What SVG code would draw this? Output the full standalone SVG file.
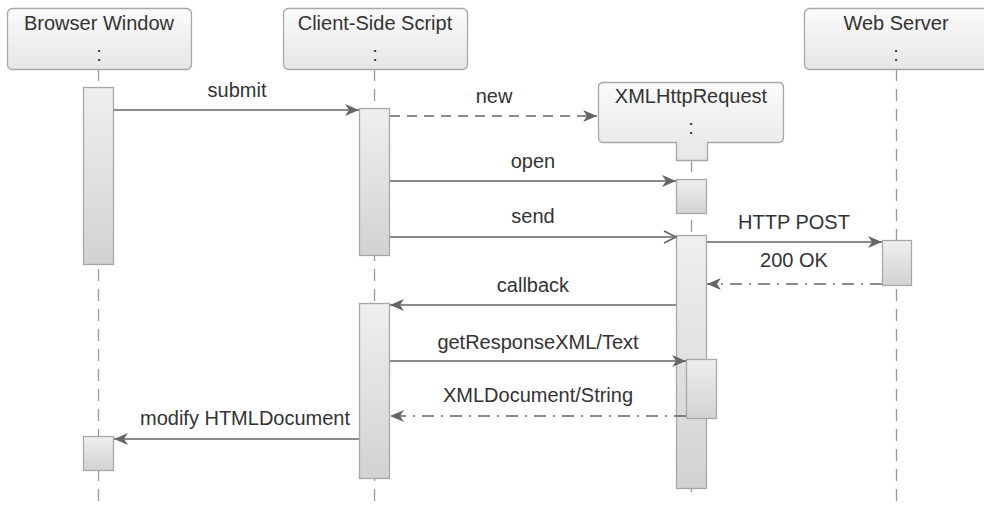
<svg xmlns="http://www.w3.org/2000/svg" width="984" height="507" viewBox="0 0 984 507">
<style>
text{font-family:"Liberation Sans",Arial,sans-serif;font-size:20px;fill:#333;text-anchor:middle}
.box{fill:url(#gBox);stroke:#a8a8a8;stroke-width:1.3}
.act{fill:url(#gAct);stroke:#a8a8a8;stroke-width:1.3}
.life{stroke:#999;stroke-width:1.3;stroke-dasharray:12 8;fill:none}
.msg{stroke:#666;stroke-width:1.6;fill:none}
.dash{stroke-dasharray:10 7}
.ret{stroke-dasharray:12 7 2 7}
.filled{marker-end:url(#arrF)}
.open{marker-end:url(#arrO)}
</style>
<defs>
<linearGradient id="gBox" x1="0" y1="0" x2="0" y2="1"><stop offset="0" stop-color="#fbfbfb"/><stop offset="1" stop-color="#e6e6e6"/></linearGradient>
<linearGradient id="gAct" x1="0" y1="0" x2="0" y2="1"><stop offset="0" stop-color="#efefef"/><stop offset="1" stop-color="#d2d2d2"/></linearGradient>
<marker id="arrF" markerUnits="userSpaceOnUse" markerWidth="16" markerHeight="12" refX="14" refY="6" orient="auto"><path d="M0,0 L14,6 L0,12 L4,6 z" fill="#666"/></marker>
<marker id="arrO" markerUnits="userSpaceOnUse" markerWidth="16" markerHeight="14" refX="13" refY="7" orient="auto"><path d="M1,1 L13,7 L1,13" fill="none" stroke="#666" stroke-width="1.6"/></marker>
</defs>
<rect width="984" height="507" fill="#fff"/>
<g id="lifelines">
<line class="life" x1="98.5" y1="69" x2="98.5" y2="507"/>
<line class="life" x1="374.5" y1="69" x2="374.5" y2="507"/>
<line class="life" x1="691.5" y1="160" x2="691.5" y2="498"/>
<line class="life" x1="896.5" y1="69" x2="896.5" y2="507"/>
</g>
<g id="browser">
<rect class="box" x="7.5" y="8.5" width="184" height="61" rx="5"/>
<text x="99" y="30">Browser Window</text>
<text x="99" y="61">:</text>
<rect class="act" x="83.5" y="87.5" width="30" height="177"/>
<rect class="act" x="83.5" y="436.5" width="30" height="34"/>
</g>
<g id="client">
<rect class="box" x="283.5" y="8.5" width="184" height="61" rx="5"/>
<text x="375" y="30">Client-Side Script</text>
<text x="375" y="61">:</text>
<rect class="act" x="359.5" y="108.5" width="30" height="147"/>
<rect class="act" x="359.5" y="303.5" width="30" height="175"/>
</g>
<g id="xhr">
<path class="box" d="M603.5,82.5 H778.5 Q783.5,82.5 783.5,87.5 V137.5 Q783.5,142.5 778.5,142.5 H707.5 V160.5 H676.5 V142.5 H603.5 Q598.5,142.5 598.5,137.5 V87.5 Q598.5,82.5 603.5,82.5 Z"/>
<text x="691" y="103">XMLHttpRequest</text>
<text x="691" y="134">:</text>
<rect class="act" x="676.5" y="179.5" width="30" height="34"/>
<rect class="act" x="676.5" y="235.5" width="30" height="253"/>
<rect class="act" x="686.5" y="359.5" width="30" height="59"/>
</g>
<g id="server">
<rect class="box" x="804.5" y="8.5" width="184" height="61" rx="5"/>
<text x="896" y="30">Web Server</text>
<text x="896" y="61">:</text>
<rect class="act" x="882.5" y="240.5" width="29" height="45"/>
</g>
<g id="connectors">
<line class="msg filled" x1="114" y1="110" x2="359" y2="110"/>
<text x="237" y="97">submit</text>
<line class="msg dash filled" x1="390" y1="116" x2="597" y2="116"/>
<text x="494" y="103">new</text>
<line class="msg filled" x1="390" y1="181" x2="676" y2="181"/>
<text x="533" y="168">open</text>
<line class="msg open" x1="390" y1="237" x2="676" y2="237"/>
<text x="533" y="223">send</text>
<line class="msg filled" x1="707" y1="242" x2="882" y2="242"/>
<text x="794" y="229">HTTP POST</text>
<line class="msg ret filled" x1="882" y1="284" x2="707" y2="284"/>
<text x="794" y="267">200 OK</text>
<line class="msg filled" x1="676" y1="305" x2="390" y2="305"/>
<text x="533" y="292">callback</text>
<line class="msg filled" x1="390" y1="361" x2="686" y2="361"/>
<text x="538" y="349">getResponseXML/Text</text>
<line class="msg ret filled" x1="686" y1="416" x2="390" y2="416"/>
<text x="538" y="402">XMLDocument/String</text>
<line class="msg filled" x1="359" y1="439" x2="114" y2="439"/>
<text x="245" y="425">modify HTMLDocument</text>
</g>
</svg>
